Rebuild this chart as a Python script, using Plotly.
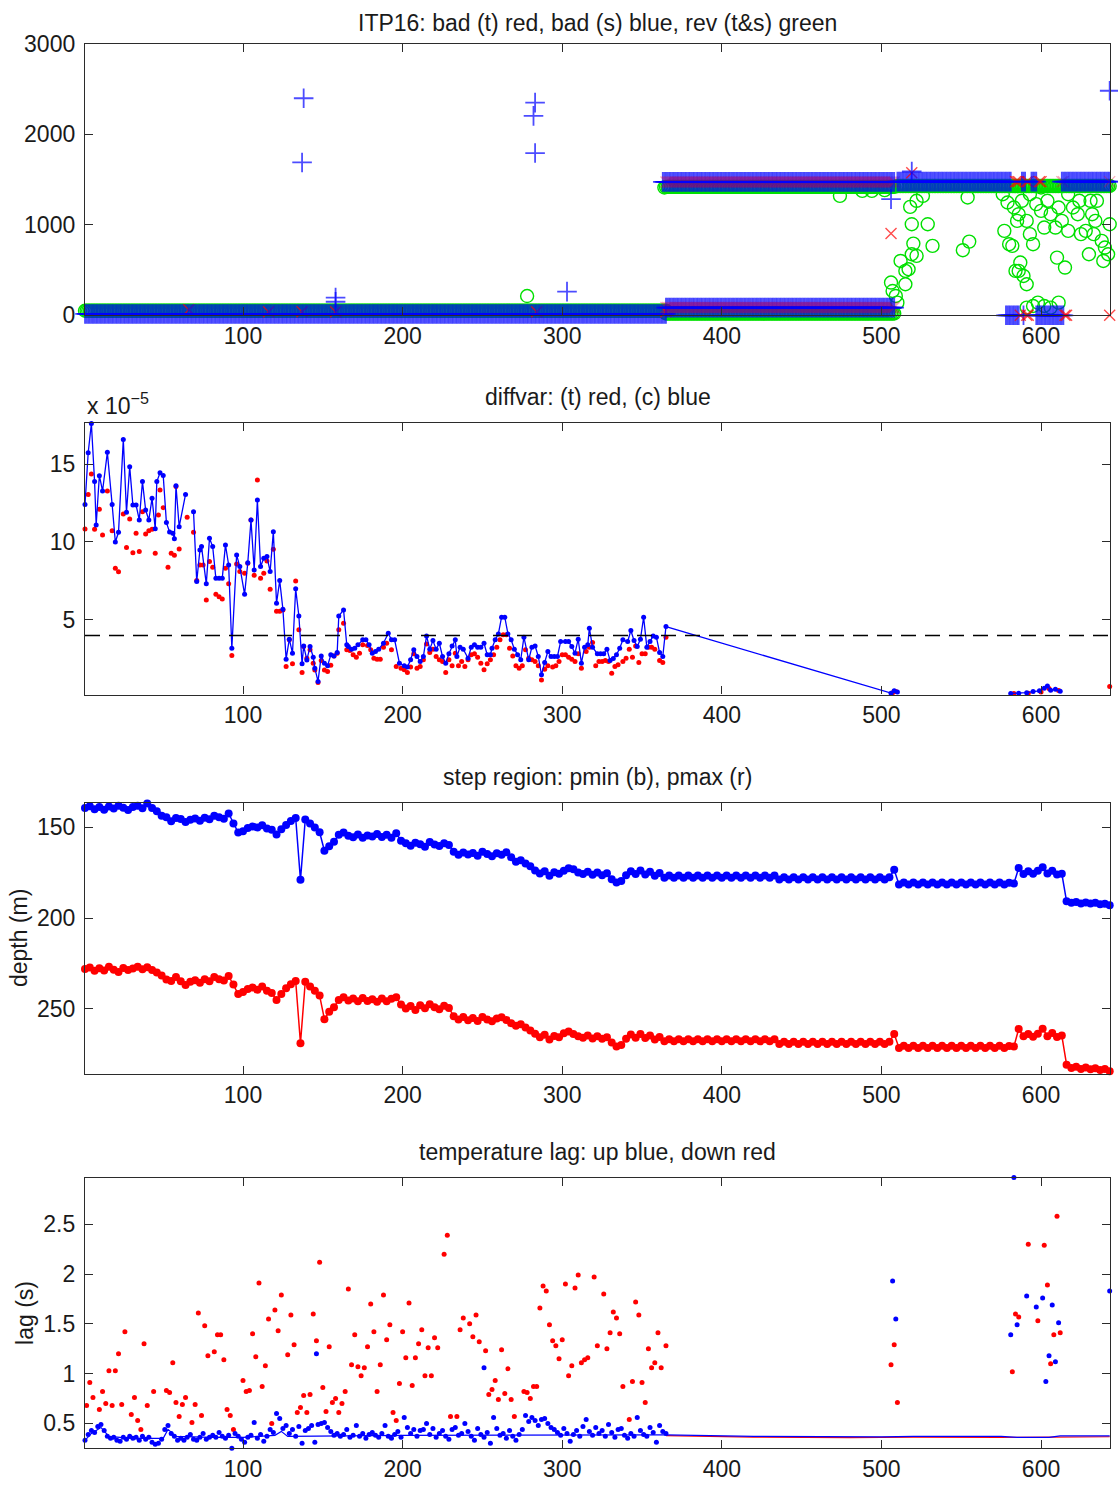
import plotly.graph_objects as go

# ---------------- panel 1: depths of flagged samples per profile ----------------
# runs of consecutive profiles flagged at the same depth: (first, last, depth)
rev_runs = [(1, 365, 50), (365, 508, 20), (365, 508, 1420), (510, 643, 1430)]
rev_prof = [278, 364, 474, 488, 494, 502,
            506, 507, 509, 510, 512, 515, 515, 517, 519, 520, 522, 519, 529, 532, 551, 555, 518, 522, 526, 554,
            577, 580, 582, 587, 586, 589, 591, 584, 576, 579, 583, 586, 588, 591, 593, 595, 597, 600, 602, 604,
            606, 609, 611, 613, 615, 610, 617, 620, 623, 625, 628, 630, 632, 633, 635, 638, 640, 642, 643,
            591, 595, 598, 602, 606, 611, 593, 600, 624, 634, 639, 631, 617, 585]
rev_depth = [213, 1413, 1321, 1376, 1376, 1384,
             362, 269, 214, 140, 601, 491, 343, 509, 675, 793, 657, 1007, 1007, 768, 720, 815, 1199, 1266, 1321, 1303,
             934, 786, 768, 583, 491, 435, 343, 491, 1339, 1247, 1192, 1118, 1266, 1044, 897, 786, 1229, 1155, 970, 1266,
             1118, 970, 1192, 1044, 528, 638, 1339, 1192, 1118, 897, 934, 675, 1118, 897, 1266, 823, 749, 675, 1007,
             85, 103, 140, 103, 85, 140, 1339, 1413, 1266, 1044, 601, 1266, 934, 1044]

bad_t_runs = [(365, 508, 85), (365, 508, 1475), (584, 586, 1478), (591, 592, 1478), (599, 600, 1478),
              (613, 614, 1478), (587, 587, 0), (591, 592, 0), (615, 616, 0)]
bad_t_prof = [66, 116, 137, 158, 284, 365, 506, 519, 643, 643]
bad_t_depth = [60, 40, 40, 40, 40, 40, 904, 1575, 0, 1478]

bad_s_runs = [(1, 365, 15), (365, 508, 85), (363, 508, 1475), (510, 581, 1478), (588, 590, 1478),
              (594, 597, 1478), (613, 643, 1478), (578, 586, 0), (589, 589, 0), (597, 614, 0)]
bad_s_prof = [137, 138, 158, 158, 282, 283, 283, 303, 303, 506, 519, 643]
bad_s_depth = [1690, 2400, 195, 150, 2205, 2352, 1794, 3006, 262, 1284, 1590, 2483]

# ---------------- panel 2: diffvar (units of 1e-5) ----------------
diff_c_prof = [1, 3, 5, 7, 8, 10, 12, 15, 18, 20,
               22, 25, 27, 29, 31, 33, 35, 37, 39, 41,
               43, 45, 46, 48, 50, 52, 54, 56, 57, 58,
               60, 64, None, 69, 71, 73, 74, 77, 79, 81,
               83, 85, 87, 89, 91, 93, 96, 98, 101, 103,
               105, 107, 109, 111, 113, 115, 117, 119, 121, 123,
               125, 127, 129, 131, 133, 135, 137, 138, 140, 142,
               144, 145, 147, 149, 151, 153, 155, 157, 159, 160,
               163, 165, 166, 168, 170, 172, 175, 177, 179, 181,
               183, 185, 188, 191, 193, 195, 198,
               201, 203, 205, 207, 209, 211, 213, 215, 217, 219,
               221, 223, 225, 227, 229, 231, 233, 234, 236, 238,
               241, 243, 245, 247, 249, 251, 253, 255, 256, 258,
               260, 262, 264, 266, 268, 270, 272, 274, 276, 279,
               281, 283, 285, 287, 289, 291, 293, 295, 297, 299,
               302, 304, 306, 308, 310, 312, 314, 316, 317, 319,
               322, 324, 326, 328, 330, 332, 334, 336, 338, 341,
               343, 345, 347, 349, 351, 353, 355, 357, 359, 361,
               363, 365,
               506, 508, 510, None, 581, 586, 591, 595, 599, 602, 604, 606, 609, 612]
diff_c = [12.41, 15.72, 17.60, 13.87, 11.09, 14.25, 13.27, 15.75, 12.41, 10.00,
          10.62, 16.58, 11.90, 14.83, 12.37, 12.37, 11.41, 13.87, 12.05, 11.41,
          12.80, 10.85, 13.87, 14.44, 14.27, 11.24, 10.64, 10.55, 10.21, 13.61,
          10.98, 13.05, None, 11.94, 7.46, 9.49, 9.70, 7.31, 10.23, 9.70,
          7.67, 7.67, 7.67, 9.81, 8.52, 3.18, 9.17, 8.42, 6.64, 8.67,
          11.41, 8.20, 12.69, 8.42, 8.95, 9.06, 8.10, 10.66, 6.07, 7.52,
          5.68, 2.48, 3.76, 2.86, 6.99, 5.25, 2.18, 3.33, 2.43, 3.29,
          2.61, 1.90, 1.05, 2.69, 2.22, 2.05, 2.76, 2.69, 2.90, 5.25,
          5.64, 3.40, 3.29, 3.12, 3.18, 3.40, 3.72, 3.72, 3.40, 2.86,
          2.97, 3.12, 3.50, 4.14, 3.72, 3.72, 2.22,
          2.05, 1.97, 2.44, 3.08, 2.65, 2.33, 2.65, 3.97, 3.12, 3.67,
          3.12, 3.50, 2.65, 2.22, 2.82, 3.33, 3.72, 2.65, 3.25, 3.12,
          2.54, 3.25, 3.40, 3.25, 3.25, 3.50, 2.76, 2.76, 3.18, 3.72,
          4.10, 5.17, 5.17, 4.10, 3.72, 3.12, 2.76, 2.44, 3.89, 2.44,
          3.25, 3.33, 2.65, 1.48, 2.27, 2.97, 2.65, 2.65, 2.65, 3.61,
          3.61, 3.61, 3.29, 2.86, 3.76, 2.22, 3.25, 3.40, 4.47, 3.25,
          2.82, 2.82, 2.82, 3.12, 2.39, 2.52, 2.76, 3.18, 3.72, 3.61,
          4.32, 3.67, 3.29, 3.76, 5.17, 3.25, 3.61, 3.97, 3.89, 2.91,
          2.65, 4.57,
          0.30, 0.45, 0.38, None, 0.28, 0.30, 0.33, 0.40, 0.45, 0.62, 0.75, 0.48, 0.55, 0.42]

diff_t_prof = [1, 3, 5, 7, 10, 12, 15, 18, 20, 22,
               25, 27, 29, 31, 33, 35, 37, 39, 41, 43,
               45, 47, 48, 50, 53, 55, 57, 58, 60, 65,
               69, 71, 73, 75, 77, 79, 81, 83, 85, 87,
               89, 91, 93, 96, 98, 101, 103, 105, 107, 109,
               111, 113, 115, 117, 119, 121, 123, 125, 127, 129,
               131, 133, 135, 137, 138, 140, 142, 144, 145, 147,
               149, 151, 153, 155, 157, 159, 160, 163, 165, 167,
               169, 171, 173, 175, 178, 180, 182, 184, 186, 188,
               190, 193, 196,
               199, 201, 203, 205, 207, 209, 211, 213, 215, 217,
               219, 221, 223, 225, 227, 229, 231, 233, 235, 237,
               239, 241, 243, 245, 247, 249, 251, 253, 255, 257,
               259, 261, 263, 265, 267, 269, 271, 273, 275, 277,
               279, 281, 283, 285, 287, 289, 291, 294, 296, 298,
               300, 302, 304, 306, 308, 310, 312, 315, 317, 319,
               321, 323, 325, 327, 329, 331, 333, 335, 338, 340,
               342, 344, 346, 348, 350, 352, 354, 356, 358, 361,
               363, 365, 507, 509, 583, 592, 600, 605, 611, 643]
diff_t = [10.83, 13.05, 14.36, 10.81, 12.09, 10.45, 13.27, 10.72, 8.31, 8.08,
          11.79, 9.64, 11.47, 9.31, 10.55, 9.38, 11.94, 10.51, 10.72, 10.81,
          9.27, 11.73, 13.33, 12.20, 8.37, 9.27, 9.14, 13.55, 9.55, 11.58,
          10.62, 7.52, 8.52, 8.52, 6.28, 8.74, 8.37, 6.64, 6.49, 6.34,
          8.31, 7.31, 2.71, 8.59, 8.10, 7.99, 8.63, 11.41, 7.86, 13.97,
          7.67, 7.99, 8.78, 6.96, 9.53, 5.55, 5.55, 5.64, 2.01, 3.72,
          2.18, 7.50, 4.36, 1.62, 3.29, 2.54, 3.08, 2.22, 1.79, 0.98,
          2.39, 1.79, 1.69, 2.09, 2.69, 2.86, 4.36, 4.79, 3.08, 3.03,
          2.76, 2.61, 2.86, 3.40, 3.35, 3.08, 2.54, 2.48, 2.48, 3.25,
          3.50, 3.08, 2.01,
          1.90, 1.80, 1.62, 1.97, 2.82, 1.90, 2.01, 2.44, 3.46, 2.91,
          3.12, 2.65, 2.44, 2.33, 1.62, 2.44, 2.05, 2.86, 2.05, 2.33,
          2.01, 2.44, 2.76, 2.82, 2.61, 2.22, 1.80, 2.18, 2.44, 2.76,
          3.25, 3.72, 4.04, 4.04, 3.18, 2.69, 2.05, 1.90, 2.05, 3.08,
          2.54, 2.44, 2.33, 2.05, 1.15, 1.84, 2.05, 1.97, 2.05, 2.33,
          2.76, 2.76, 2.61, 2.48, 2.33, 2.82, 1.90, 2.97, 3.25, 3.55,
          2.05, 2.33, 2.33, 2.39, 2.33, 1.58, 2.01, 2.12, 2.33, 2.54,
          3.12, 2.61, 3.33, 2.26, 2.82, 2.82, 3.25, 3.25, 3.12, 2.39,
          2.26, 3.89, 0.32, 0.40, 0.27, 0.30, 0.38, 0.60, 0.47, 0.73]
diffvar_threshold = 4.0

# ---------------- panel 3: step region pmin / pmax (m), every third profile ----------------
step_prof = list(range(1, 644, 3))
pmin = [139.5, 138.5, 140.2, 139.0, 140.5, 138.6, 139.8, 138.2, 139.4, 140.6,
        139.0, 138.2, 139.6, 137.0, 139.5, 141.2, 143.8, 144.5, 146.8, 145.0,
        145.5, 147.2, 146.0, 145.2, 146.5, 144.8, 145.6, 143.8, 144.6, 145.4,
        142.5, 148.0, 153.0, 152.2, 150.5, 149.6, 150.2, 149.0, 150.8, 151.4,
        154.0, 151.2, 148.8, 146.6, 145.0, 179.0, 145.8, 148.0, 150.2, 152.8,
        163.0, 160.5, 158.0, 154.2, 153.0, 154.8, 155.6, 154.0, 155.8, 154.6,
        155.2, 153.8, 155.4, 154.2, 155.8, 153.4, 157.5, 158.8, 160.2, 158.6,
        159.4, 160.8, 158.2, 159.6, 160.4, 158.8, 159.8, 163.5, 165.2, 164.0,
        165.0, 164.2, 165.8, 163.6, 164.8, 166.0, 164.4, 165.2, 163.8, 166.5,
        169.0, 168.2, 170.0, 171.5, 173.8, 175.5, 174.2, 176.8, 174.8, 175.6,
        174.0, 172.6, 173.2, 175.0, 175.8, 174.6, 176.2, 175.0, 176.4, 175.4,
        178.6, 180.5, 179.6, 176.4, 174.2, 175.8, 173.8, 176.0, 174.6, 176.8,
        175.2, 177.8, 176.6, 177.8, 176.6, 177.8, 176.6, 177.8, 176.6, 177.8,
        176.6, 177.8, 176.6, 177.8, 176.6, 177.8, 176.6, 177.8, 176.6, 177.8,
        176.6, 177.8, 176.6, 177.8, 176.6, 178.8, 177.6, 178.8, 177.6, 178.8,
        177.6, 178.8, 177.6, 178.8, 177.6, 178.8, 177.6, 178.8, 177.6, 178.8,
        177.6, 178.8, 177.6, 178.8, 177.6, 178.8, 177.6, 178.8, 177.6, 173.5,
        181.6, 180.4, 181.6, 180.4, 181.6, 180.4, 181.6, 180.4, 181.6, 180.4,
        181.6, 180.4, 181.6, 180.4, 181.6, 180.4, 181.6, 180.4, 181.6, 180.4,
        181.6, 180.4, 181.6, 180.6, 181.0, 172.5, 175.8, 174.2, 175.6, 174.0,
        172.0, 175.5, 174.0, 176.0, 175.6, 190.8, 191.6, 191.2, 192.0, 191.4,
        192.0, 191.6, 192.4, 192.2, 193.0]
pmax = [228.0, 227.2, 229.0, 227.6, 228.8, 226.8, 228.4, 229.6, 227.4, 228.6,
        227.8, 226.8, 228.2, 227.0, 228.6, 230.0, 231.6, 233.8, 234.6, 232.4,
        234.8, 236.8, 235.0, 234.2, 235.6, 233.6, 234.8, 232.4, 233.6, 234.4,
        231.8, 236.5, 241.8, 240.6, 239.0, 238.2, 239.4, 237.6, 240.0, 241.2,
        245.0, 241.8, 238.6, 236.4, 234.6, 268.8, 235.0, 237.6, 240.0, 242.6,
        255.6, 251.5, 249.0, 245.0, 243.6, 245.4, 244.2, 245.8, 244.0, 245.6,
        244.6, 246.0, 244.2, 245.8, 244.4, 243.6, 247.6, 249.8, 248.4, 250.6,
        248.0, 249.6, 247.4, 249.0, 250.2, 248.2, 249.4, 254.0, 255.8, 254.4,
        256.2, 255.0, 256.6, 254.4, 255.8, 256.8, 255.2, 254.6, 256.0, 257.8,
        259.2, 258.4, 260.2, 261.8, 263.6, 265.6, 264.2, 266.8, 264.8, 265.6,
        263.4, 262.4, 263.8, 265.0, 265.8, 264.6, 266.2, 265.0, 266.4, 265.6,
        268.4, 270.6, 269.8, 266.4, 264.0, 265.8, 263.8, 266.0, 264.6, 266.8,
        265.4, 267.8, 266.6, 267.8, 266.6, 267.8, 266.6, 267.8, 266.6, 267.8,
        266.6, 267.8, 266.6, 267.8, 266.6, 267.8, 266.6, 267.8, 266.6, 267.8,
        266.6, 267.8, 266.6, 267.8, 266.6, 269.2, 268.0, 269.2, 268.0, 269.2,
        268.0, 269.2, 268.0, 269.2, 268.0, 269.2, 268.0, 269.2, 268.0, 269.2,
        268.0, 269.2, 268.0, 269.2, 268.0, 269.2, 268.0, 269.2, 268.0, 263.8,
        271.4, 270.2, 271.4, 270.2, 271.4, 270.2, 271.4, 270.2, 271.4, 270.2,
        271.4, 270.2, 271.4, 270.2, 271.4, 270.2, 271.4, 270.2, 271.4, 270.2,
        271.4, 270.2, 271.4, 270.4, 270.6, 261.0, 265.0, 263.8, 265.2, 263.6,
        260.8, 265.0, 263.2, 265.4, 264.6, 280.6, 282.4, 281.8, 283.0, 282.2,
        283.2, 282.6, 283.6, 283.0, 284.2]

# ---------------- panel 4: temperature lag (s) ----------------
lag_up_prof = list(range(1, 366, 2)) + [146, 251, 507, 509, 581, 583, 585, 591, 597, 601, 603, 605, 607, 609, 611, 643]
lag_up = [0.33, 0.39, 0.43, 0.41, 0.47, 0.49, 0.43, 0.37, 0.35, 0.36,
          0.33, 0.32, 0.36, 0.34, 0.37, 0.35, 0.36, 0.33, 0.37, 0.34,
          0.36, 0.31, 0.29, 0.30, 0.34, 0.44, 0.48, 0.40, 0.37, 0.33,
          0.35, 0.33, 0.36, 0.39, 0.34, 0.33, 0.36, 0.40, 0.34, 0.36,
          0.38, 0.36, 0.41, 0.37, 0.35, 0.38, 0.25, 0.40, 0.37, 0.34,
          0.31, 0.36, 0.38, 0.51, 0.35, 0.39, 0.32, 0.37, 0.44, 0.41,
          0.60, 0.55, 0.45, 0.48, 0.40, 0.44, 0.37, 0.47, 0.30, 0.43,
          0.45, 0.48, 0.31, 0.49, 0.50, 0.51, 0.46, 0.42, 0.38, 0.40,
          0.37, 0.39, 0.44, 0.36, 0.38, 0.48, 0.37, 0.40, 0.35, 0.39,
          0.41, 0.38, 0.36, 0.40, 0.48, 0.37, 0.35, 0.39, 0.42, 0.36,
          0.56, 0.46, 0.40, 0.44, 0.37, 0.43, 0.44, 0.50, 0.39, 0.45,
          0.36, 0.40, 0.43, 0.37, 0.34, 0.44, 0.46, 0.38, 0.40, 0.50,
          0.42, 0.37, 0.33, 0.45, 0.39, 0.36, 0.41, 0.30, 0.56, 0.45,
          0.38, 0.40, 0.35, 0.43, 0.37, 0.33, 0.39, 0.44, 0.58, 0.52,
          0.56, 0.53, 0.48, 0.54, 0.55, 0.50, 0.46, 0.44, 0.41, 0.38,
          0.45, 0.40, 0.32, 0.39, 0.43, 0.37, 0.47, 0.54, 0.42, 0.38,
          0.46, 0.40, 0.43, 0.37, 0.49, 0.41, 0.36, 0.44, 0.45, 0.38,
          0.35, 0.40, 0.37, 0.56, 0.43, 0.39, 0.37, 0.46, 0.41, 0.31,
          0.48, 0.42, 0.40,
          1.20, 1.06, 1.93, 1.55, 1.39, 2.97, 1.49, 1.78, 1.67, 1.76, 0.92, 1.18, 1.69, 1.12, 1.51, 1.83]

lag_dn_prof = [2, 4, 6, 10, 12, 14, 16, 18, 20, 22,
               24, 26, 30, 32, 34, 36, 38, 40, 44, 52,
               54, 56, 58, 60, 62, 64, 68, 70, 72, 74,
               76, 78, 82, 84, 86, 88, 90, 92, 94, 100,
               102, 104, 106, 108, 110, 112, 114, 116, 118, 120,
               122, 124, 128, 130, 132, 134, 136, 138, 140, 142,
               144, 146, 148, 150, 152, 154, 156, 158, 160, 162,
               164, 166, 168, 170, 172, 174, 176, 178, 180, 182,
               184, 186, 188, 190, 192, 194, 196, 198, 200, 202,
               204, 206, 208, 210, 212, 214, 216, 218, 220, 222,
               226, 228, 230, 234, 236, 238, 242, 244, 246, 248,
               252, 254, 256, 258, 260, 262, 264, 266, 268, 270,
               276, 278, 280, 282, 284, 286, 288, 290, 292, 294,
               296, 298, 300, 302, 304, 306, 308, 310, 312, 314,
               316, 320, 322, 326, 328, 330, 332, 334, 336, 338,
               342, 344, 346, 348, 350, 352, 354, 356, 358, 360,
               362, 365, 506, 508, 510, 582, 584, 586, 592, 598,
               602, 604, 606, 608, 610, 612]
lag_dn = [0.68, 0.91, 0.76, 0.64, 0.82, 0.70, 1.03, 0.68, 1.03, 1.20,
          0.69, 1.42, 0.59, 0.76, 0.53, 0.44, 1.30, 0.68, 0.82, 0.83,
          0.81, 1.11, 0.71, 0.57, 0.69, 0.76, 0.51, 0.69, 1.61, 0.58,
          1.48, 1.18, 1.22, 1.39, 1.39, 1.14, 0.64, 0.58, 0.44, 0.93,
          0.82, 0.83, 1.40, 1.17, 1.91, 0.87, 1.08, 1.55, 0.50, 1.64,
          1.43, 1.79, 1.19, 1.59, 1.29, 0.61, 0.66, 0.78, 0.61, 0.79,
          1.60, 1.33, 2.12, 0.86, 0.62, 1.27, 0.71, 0.75, 0.61, 0.70,
          0.82, 1.85, 1.09, 1.39, 1.07, 0.98, 1.06, 1.27, 1.70, 1.42,
          0.82, 1.09, 1.79, 1.34, 1.49, 0.61, 0.53, 0.90, 1.42, 1.16,
          1.71, 0.88, 1.16, 1.30, 1.44, 0.98, 1.26, 0.98, 1.36, 1.26,
          2.20, 2.39, 0.57, 0.57, 1.44, 1.56, 1.50, 1.37, 1.59, 1.32,
          1.23, 0.79, 0.84, 0.93, 0.74, 1.24, 0.80, 1.05, 0.74, 0.57,
          0.82, 0.81, 0.75, 0.87, 0.87, 1.66, 1.88, 1.83, 1.49, 1.33,
          1.28, 1.15, 1.34, 1.90, 0.98, 1.08, 1.86, 1.99, 1.11, 1.14,
          1.16, 1.97, 1.28, 1.80, 1.25, 1.41, 1.62, 1.56, 1.40, 0.87,
          0.54, 0.92, 1.72, 1.59, 0.91, 0.71, 1.25, 1.06, 1.11, 1.41,
          1.06, 1.28, 1.09, 1.29, 0.71, 1.02, 1.60, 1.57, 2.30, 1.53,
          2.29, 1.89, 1.10, 1.39, 2.58, 1.41]

# smoothed lag curves
fit_up_prof = [1, 5, 11, 16, 30, 50, 53, 58, 80, 100, 120, 124, 128, 200, 365, 420, 500, 520, 575, 585, 605, 612, 643]
fit_up = [0.33, 0.40, 0.46, 0.37, 0.35, 0.35, 0.44, 0.37, 0.36, 0.36, 0.38, 0.42, 0.37, 0.38, 0.385,
          0.37, 0.365, 0.37, 0.37, 0.36, 0.36, 0.375, 0.375]
fit_dn_prof = [365, 420, 480, 520, 575, 643]
fit_dn = [0.378, 0.362, 0.358, 0.363, 0.360, 0.366]

# ---------------- styling ----------------
FONT = "Liberation Sans, Arial, Helvetica, sans-serif"
FS = 23
W, H = 1118, 1488
RED, BLUE, GREEN = "#ff0000", "#0000ff", "#00e000"
RED_MIXED = "rgba(235,0,40,0.45)"      # red flags sharing a depth with a salinity flag
AXC = "#2b2b2b"
TXT = "#1a1a1a"
X0, X1 = 85, 1110                      # plot box, pixels
# vertical placement on the page: the drawing occupies rows PAGE_TOP .. PAGE_TOP + PAGE_SPAN
PAGE_TOP, PAGE_SPAN = 12, 1463
BOXES = [(43, 314.5), (422.3, 694), (802.3, 1074), (1177.3, 1448.3)]
TITLE_Y = [22, 396.7, 776.7, 1151.7]
TITLES = ["ITP16: bad (t) red, bad (s) blue, rev (t&s) green",
          "diffvar: (t) red, (c) blue",
          "step region: pmin (b), pmax (r)",
          "temperature lag: up blue, down red"]
XRANGE = [1, 643.2]


def fy(row):
    """page row (pixels from top) -> paper fraction"""
    return 1 - (row - PAGE_TOP) / PAGE_SPAN


def expand(runs, prof, vals):
    xs, ys = [], []
    for first, last, v in runs:
        for p in range(first, last + 1):
            xs.append(p)
            ys.append(v)
    return xs + list(prof), ys + list(vals)


fig = go.Figure()

# panel 1: reversals (circles) underneath, then temperature/salinity flags in profile order
gx, gy = expand(rev_runs, rev_prof, rev_depth)
fig.add_trace(go.Scatter(x=gx, y=gy, mode="markers", xaxis="x", yaxis="y", cliponaxis=False,
                         marker=dict(symbol="circle-open", size=13, color=GREEN,
                                     line=dict(width=1.4, color=GREEN))))
tx, ty = expand(bad_t_runs, bad_t_prof, bad_t_depth)
sx, sy = expand(bad_s_runs, bad_s_prof, bad_s_depth)
s_set = set(zip(sx, sy))
flags = sorted([(p, 0, d) for p, d in zip(tx, ty)] + [(p, 1, d) for p, d in zip(sx, sy)])
fx = [f[0] for f in flags]
fdepth = [f[2] for f in flags]
fcol = [BLUE if f[1] else (RED_MIXED if (f[0], f[2]) in s_set else RED) for f in flags]
fsym = ["cross-thin-open" if f[1] else "x-thin-open" for f in flags]
fsize = [14 if f[1] else 11 for f in flags]
fwid = [1.8 if f[1] else 1.4 for f in flags]
fig.add_trace(go.Scatter(x=fx, y=fdepth, mode="markers", xaxis="x", yaxis="y", cliponaxis=False,
                         marker=dict(symbol=fsym, size=fsize, color=fcol,
                                     line=dict(width=fwid, color=fcol))))

# panel 2
fig.add_trace(go.Scatter(x=diff_t_prof, y=diff_t, mode="markers", xaxis="x2", yaxis="y2",
                         cliponaxis=False, marker=dict(size=5, color=RED)))
fig.add_trace(go.Scatter(x=diff_c_prof, y=diff_c, mode="lines+markers", xaxis="x2", yaxis="y2",
                         cliponaxis=False, connectgaps=False,
                         line=dict(color=BLUE, width=1.3), marker=dict(size=5, color=BLUE)))

# panel 3
fig.add_trace(go.Scatter(x=step_prof, y=pmin, mode="lines+markers", xaxis="x3", yaxis="y3",
                         cliponaxis=False, line=dict(color=BLUE, width=1.5),
                         marker=dict(size=8, color=BLUE)))
fig.add_trace(go.Scatter(x=step_prof, y=pmax, mode="lines+markers", xaxis="x3", yaxis="y3",
                         cliponaxis=False, line=dict(color=RED, width=1.5),
                         marker=dict(size=8, color=RED)))

# panel 4
fig.add_trace(go.Scatter(x=fit_dn_prof, y=fit_dn, mode="lines", xaxis="x4", yaxis="y4",
                         line=dict(color=RED, width=1.2)))
fig.add_trace(go.Scatter(x=fit_up_prof, y=fit_up, mode="lines", xaxis="x4", yaxis="y4",
                         line=dict(color=BLUE, width=1.2)))
fig.add_trace(go.Scatter(x=lag_dn_prof, y=lag_dn, mode="markers", xaxis="x4", yaxis="y4",
                         cliponaxis=False, marker=dict(size=5, color=RED)))
fig.add_trace(go.Scatter(x=lag_up_prof, y=lag_up, mode="markers", xaxis="x4", yaxis="y4",
                         cliponaxis=False, marker=dict(size=5, color=BLUE)))

tickfont = dict(family=FONT, size=FS, color=TXT)
common = dict(showline=True, mirror="allticks", linecolor=AXC, linewidth=1.3,
              ticks="inside", ticklen=8, tickwidth=1.3, tickcolor=AXC,
              showgrid=False, zeroline=False, tickfont=tickfont, fixedrange=True)

yaxes = [
    dict(range=[0, 3000], tickvals=[0, 1000, 2000, 3000]),
    dict(range=[0.21, 17.63], tickvals=[5, 10, 15]),
    dict(range=[285.9, 136.6], tickvals=[150, 200, 250]),
    dict(range=[0.25, 2.97], tickvals=[0.5, 1, 1.5, 2, 2.5], ticktext=["0.5", "1", "1.5", "2", "2.5"]),
]

layout = dict(width=W, height=H, margin=dict(l=0, r=0, t=0, b=0),
              paper_bgcolor="white", plot_bgcolor="white", showlegend=False,
              font=dict(family=FONT, size=FS, color=TXT))
xdom = [X0 / W, X1 / W]
for i, ((top, bot), yspec) in enumerate(zip(BOXES, yaxes), start=1):
    sfx = "" if i == 1 else str(i)
    layout["xaxis" + sfx] = dict(common, domain=xdom, range=XRANGE, anchor="y" + sfx,
                                 tickvals=[100, 200, 300, 400, 500, 600], ticklabelstandoff=0)
    layout["yaxis" + sfx] = dict(common, domain=[fy(bot), fy(top)], anchor="x" + sfx,
                                 ticklabelstandoff=4, **yspec)

annotations = []
for title, row in zip(TITLES, TITLE_Y):
    annotations.append(dict(text=title, xref="paper", yref="paper", x=(X0 + X1) / 2 / W, y=fy(row),
                            xanchor="center", yanchor="middle", showarrow=False,
                            font=dict(family=FONT, size=FS, color=TXT)))
annotations.append(dict(text="x 10<sup>\u22125</sup>", xref="paper", yref="paper", x=X0 / W, y=fy(403),
                        xanchor="left", yanchor="middle", showarrow=False,
                        font=dict(family=FONT, size=FS, color=TXT)))
annotations.append(dict(text="depth (m)", xref="paper", yref="paper", x=18.6 / W,
                        y=fy((BOXES[2][0] + BOXES[2][1]) / 2), textangle=-90,
                        xanchor="center", yanchor="middle", showarrow=False,
                        font=dict(family=FONT, size=FS, color=TXT)))
annotations.append(dict(text="lag (s)", xref="paper", yref="paper", x=25 / W,
                        y=fy((BOXES[3][0] + BOXES[3][1]) / 2), textangle=-90,
                        xanchor="center", yanchor="middle", showarrow=False,
                        font=dict(family=FONT, size=FS, color=TXT)))
layout["annotations"] = annotations
layout["shapes"] = [
    dict(type="line", xref="x2", yref="y2", x0=XRANGE[0], x1=XRANGE[1],
         y0=diffvar_threshold, y1=diffvar_threshold,
         line=dict(color="black", width=1.5, dash="15px,9px")),
]

fig.update_layout(**layout)
fig.write_html("out.html")
